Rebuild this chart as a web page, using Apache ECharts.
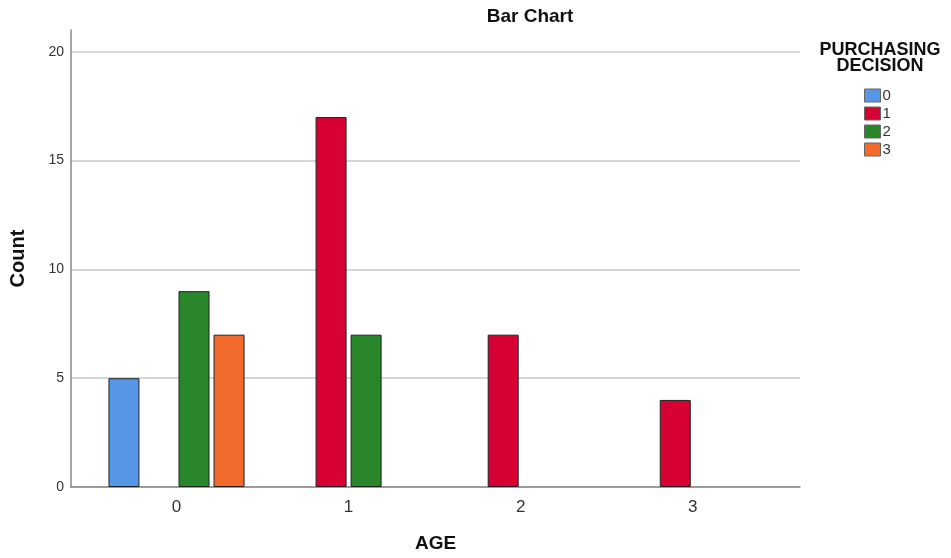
<!DOCTYPE html>
<html><head><meta charset="utf-8">
<script src="https://cdn.jsdelivr.net/npm/echarts@6/dist/echarts.min.js"></script>
<style>html,body{margin:0;padding:0;background:#fff}#c{width:951px;height:558px}</style>
</head><body><div id="c"></div>
<script>
const categories = [0, 1, 2, 3];
const seriesNames = ['0', '1', '2', '3'];
const s0 = [5, null, null, null];
const s1 = [null, 17, 7, 4];
const s2 = [9, 7, null, null];
const s3 = [7, null, null, null];
const yTicks = [0, 5, 10, 15, 20];
const colors = ['#5596e6', '#d70033', '#2a862a', '#f26b2c'];
const values = [s0, s1, s2, s3];

const chart = echarts.init(document.getElementById('c'), null, {renderer: 'canvas'});
const FONT = 'Liberation Sans, Arial, sans-serif';
chart.setOption({
  animation: false,
  backgroundColor: '#fff',
  color: colors,
  title: [
    {text: 'Bar Chart', left: 525, top: 2, textAlign: 'center',
     textStyle: {fontFamily: FONT, fontSize: 19, fontWeight: 'bold', color: '#111'}},
    {text: 'PURCHASING\nDECISION', left: 875, top: 37, textAlign: 'center',
     textStyle: {fontFamily: FONT, fontSize: 18, fontWeight: 'bold', color: '#111', lineHeight: 16}}
  ],
  legend: {
    orient: 'vertical', left: 864, top: 88, padding: 0, itemWidth: 16, itemHeight: 13, itemGap: 3,
    data: seriesNames,
    itemStyle: {borderColor: '#666', borderWidth: 1},
    textStyle: {fontFamily: FONT, fontSize: 15, color: '#333', padding: [0, 0, 0, -3]},
    icon: 'rect'
  },
  grid: {left: 68, right: 151, top: 30, bottom: 68, containLabel: false},
  xAxis: {
    type: 'value', min: -0.613, max: 3.623,
    name: 'AGE', nameLocation: 'middle', nameGap: 47,
    nameTextStyle: {fontFamily: FONT, fontSize: 19, fontWeight: 'bold', color: '#111'},
    axisLine: {show: true, onZero: false, lineStyle: {color: '#888', width: 1.5}},
    axisTick: {show: false},
    splitLine: {show: false},
    axisLabel: {fontFamily: FONT, fontSize: 17, color: '#333', margin: 12,
      formatter: v => categories.includes(v) ? String(v) : ''}
  },
  yAxis: {
    type: 'value', min: 0, max: 21, interval: 5,
    name: 'Count', nameLocation: 'middle', nameGap: 43, nameRotate: 90,
    nameTextStyle: {fontFamily: FONT, fontSize: 20, fontWeight: 'bold', color: '#111'},
    axisLine: {show: true, onZero: false, lineStyle: {color: '#888', width: 1.5}},
    axisTick: {show: false},
    splitLine: {show: true, showMaxLine: false, lineStyle: {color: '#c8c8c8', width: 1.5}},
    axisLabel: {fontFamily: FONT, fontSize: 14, color: '#333', margin: 7,
      formatter: v => yTicks.includes(v) ? String(v) : ''}
  },
  series: seriesNames.map((n, i) => ({
    name: n, type: 'bar', barWidth: 31, barGap: '13%',
    data: categories.map((c, j) => values[i][j] == null ? null : [c, values[i][j]]).filter(d => d),
    itemStyle: {color: colors[i], borderColor: '#222', borderWidth: 1}
  }))
});
</script></body></html>
